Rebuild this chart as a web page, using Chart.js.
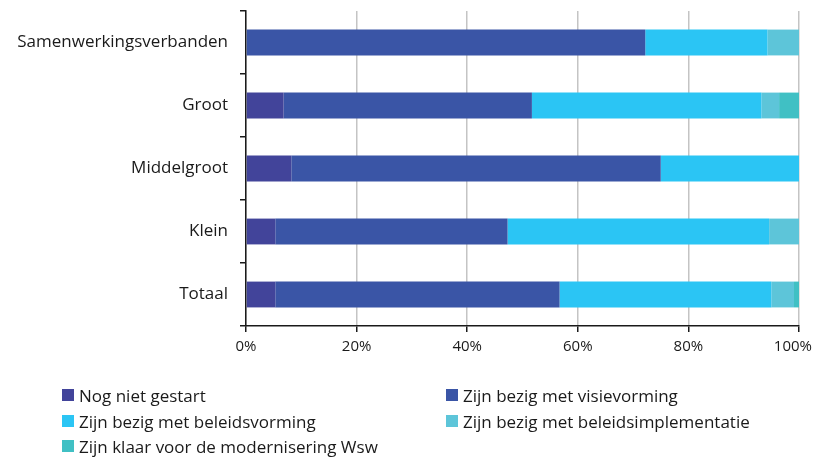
<!DOCTYPE html>
<html><head><meta charset="utf-8">
<script src="https://cdn.jsdelivr.net/npm/chart.js@4/dist/chart.umd.min.js"></script>
<style>
html,body{margin:0;padding:0;background:#fff;}
#wrap{position:relative;width:814px;height:458px;}
#legend{position:absolute;left:0;top:0;width:814px;height:458px;pointer-events:none;font-family:"Open Sans",sans-serif;font-size:17px;color:#1a1a1a;}
.li{position:absolute;display:flex;align-items:center;white-space:nowrap;height:24px;}
.sw{width:12px;height:12px;margin-right:5px;}
</style>
</head><body>
<div id="wrap"><canvas id="c" width="814" height="458"></canvas><div id="legend"></div></div>
<script>
const categories = ["Samenwerkingsverbanden","Groot","Middelgroot","Klein","Totaal"];
const seriesNames = ["Nog niet gestart","Zijn bezig met visievorming","Zijn bezig met beleidsvorming","Zijn bezig met beleidsimplementatie","Zijn klaar voor de modernisering Wsw"];
const nogNietGestart = [0, 6.8, 8.2, 5.3, 5.3];
const visievorming = [72.2, 44.9, 66.8, 42.0, 51.4];
const beleidsvorming = [22.1, 41.5, 25.0, 47.3, 38.3];
const beleidsimplementatie = [5.7, 3.2, 0, 5.4, 4.1];
const klaar = [0, 3.6, 0, 0, 0.9];
const xTickValues = [0,20,40,60,80,100];
const colors = ["#42449A","#3A55A6","#2BC5F4","#5DC5D9","#40C0C4"];

const seriesData = [nogNietGestart, visievorming, beleidsvorming, beleidsimplementatie, klaar];
const FONT = '"Open Sans", sans-serif';

// keep the last x tick label inside the canvas (as in the reference)
const lastLabelFit = {
  id: 'lastLabelFit',
  beforeDraw(chart) {
    const s = chart.scales.x;
    const items = s.getLabelItems(chart.chartArea);
    const last = items[items.length - 1];
    if (last && last.options && last.options.translation) {
      last.options.textAlign = 'right';
      last.options.translation[0] = chart.width - 2;
    }
  }
};

const chart = new Chart(document.getElementById('c'), {
  type: 'bar',
  data: {
    labels: categories,
    datasets: seriesData.map((d,i)=>({label: seriesNames[i], data: d, backgroundColor: colors[i], borderWidth: 0, categoryPercentage: 1, barPercentage: 0.41}))
  },
  options: {
    indexAxis: 'y',
    responsive: false,
    animation: false,
    layout: {padding: {left: 0, right: 15, top: 11, bottom: 0}},
    plugins: {legend: {display: false}, tooltip: {enabled: false}},
    scales: {
      x: {
        stacked: true, min: 0, max: 100,
        afterBuildTicks: s => { s.ticks = xTickValues.map(v=>({value:v})); },
        afterFit: s => { s.height = 132; s.paddingLeft = 0; s.paddingRight = 0; },
        grid: {color: '#c4c4c4', lineWidth: 1.5, tickColor: '#1a1a1a', tickLength: 6, drawTicks: true},
        border: {color: '#1a1a1a', width: 1.5},
        ticks: {callback: v => v + '%', color: '#1a1a1a', font: {family: FONT, size: 15}, padding: 6, maxRotation: 0}
      },
      y: {
        stacked: true,
        afterFit: s => { s.width = 246; s.paddingTop = 0; s.paddingBottom = 0; },
        grid: {drawOnChartArea: false, drawTicks: true, tickLength: 6, color: '#1a1a1a', lineWidth: 1.5},
        border: {color: '#1a1a1a', width: 1.5},
        ticks: {color: '#1a1a1a', font: {family: FONT, size: 17}, padding: 12}
      }
    }
  },
  plugins: [lastLabelFit]
});

// HTML legend built from datasets
const legend = document.getElementById('legend');
const pos = [[62,395],[446,395],[62,421],[446,421],[62,446]];
chart.data.datasets.forEach((ds,i)=>{
  const el = document.createElement('div');
  el.className = 'li';
  el.style.left = pos[i][0] + 'px';
  el.style.top = (pos[i][1]-12) + 'px';
  const sw = document.createElement('span'); sw.className='sw'; sw.style.background = ds.backgroundColor;
  const t = document.createElement('span'); t.textContent = ds.label;
  el.appendChild(sw); el.appendChild(t);
  legend.appendChild(el);
});
</script>
</body></html>
